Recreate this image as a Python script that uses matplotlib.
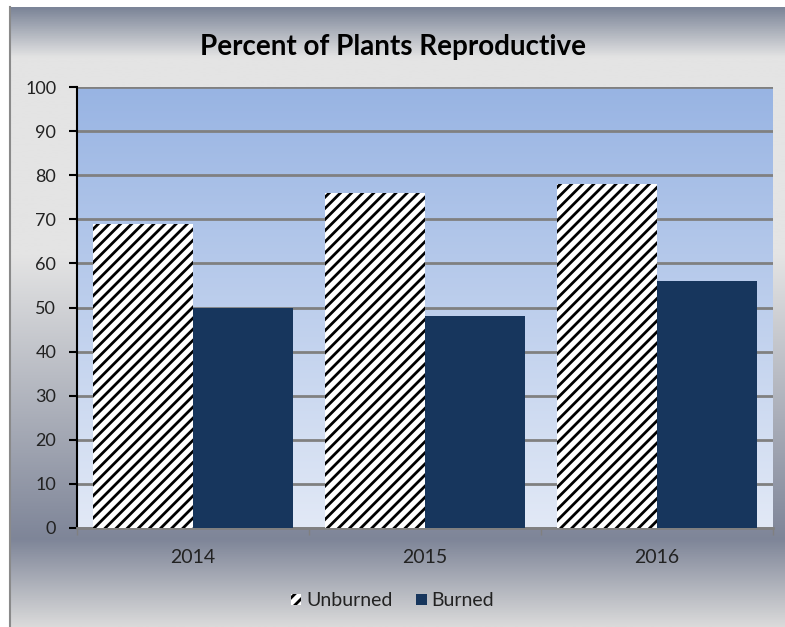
import numpy as np
import matplotlib
matplotlib.use("Agg")
import matplotlib.pyplot as plt
from matplotlib.colors import LinearSegmentedColormap

years = ["2014", "2015", "2016"]
unburned = [69, 76, 78]
burned = [50, 48, 56]
y_ticks = list(range(0, 101, 10))

plt.rcParams["font.family"] = ["Lato", "DejaVu Sans"]
plt.rcParams["hatch.linewidth"] = 2.0

W, H = 785, 627
fig = plt.figure(figsize=(W / 100, H / 100), dpi=100)
fig.patch.set_facecolor("white")

# chart-area gradient panel (Excel style)
bg = fig.add_axes([10 / W, 0, 1 - 10 / W, 1 - 7 / H])
bg.set_zorder(-10)
panel_cmap = LinearSegmentedColormap.from_list(
    "panel",
    [(0.0, "#7c8598"), (0.08, "#e4e4e4"), (0.40, "#e4e4e4"),
     (0.86, "#7e8598"), (1.0, "#dadada")])
bg.imshow(np.linspace(0, 1, 256).reshape(-1, 1), cmap=panel_cmap,
          aspect="auto", extent=[0, 1, 0, 1])
bg.set_xlim(0, 1)
bg.set_ylim(0, 1)
bg.set_xticks([])
bg.set_yticks([])
for side in ["top", "right", "bottom"]:
    bg.spines[side].set_visible(False)
bg.spines["left"].set_color("#8a8a8a")
bg.spines["left"].set_linewidth(1.5)

ax = fig.add_axes([77 / W, 99 / H, 696 / W, 441 / H])
ax.set_facecolor("none")
ax.set_zorder(1)

plot_cmap = LinearSegmentedColormap.from_list("plot", ["#98b4e3", "#e2e9f6"])
ax.imshow(np.linspace(0, 1, 256).reshape(-1, 1), cmap=plot_cmap,
          aspect="auto", extent=[-0.5, 2.5, 0, 100], zorder=0)

x = np.arange(len(years))
width = 0.43
ax.bar(x - width / 2, unburned, width, facecolor="white", edgecolor="black",
       linewidth=0, hatch="///", label="Unburned", zorder=3)
ax.bar(x + width / 2, burned, width, color="#17365d", linewidth=0,
       label="Burned", zorder=3)

ax.set_xlim(-0.5, 2.5)
ax.set_ylim(0, 100)
ax.set_yticks(y_ticks)
ax.yaxis.grid(True, color="#808080", linewidth=2, zorder=1)
ax.set_axisbelow(True)

ax.set_xticks(x)
ax.set_xticklabels(years, fontsize=14, color="#222222")
ax.set_xticks([-0.5, 0.5, 1.5, 2.5], minor=True)
ax.tick_params(axis="x", which="major", length=0, pad=15)
ax.tick_params(axis="x", which="minor", length=5, color="#808080", width=1)
ax.tick_params(axis="y", length=6, width=1.5, color="black", labelsize=13,
               pad=9, labelcolor="#222222")

ax.spines["left"].set_color("black")
ax.spines["left"].set_linewidth(1.5)
ax.spines["bottom"].set_color("#808080")
ax.spines["bottom"].set_linewidth(2)
ax.spines["top"].set_visible(False)
ax.spines["right"].set_visible(False)

fig.text(0.5, 1 - 47 / H, "Percent of Plants Reproductive", ha="center",
         va="center", fontsize=20, fontweight="bold", color="black")

fig.legend(loc="center", bbox_to_anchor=(0.5, 26 / H), ncol=2, frameon=False,
           fontsize=14, handlelength=0.55, handleheight=0.55, handletextpad=0.25,
           columnspacing=1.2, labelcolor="#222222")

fig.savefig("out.png", dpi=100)
